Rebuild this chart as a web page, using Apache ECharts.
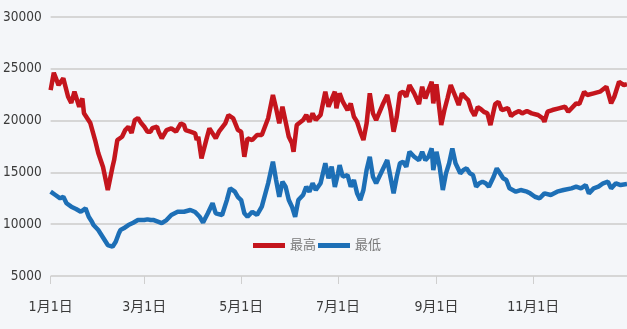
<!DOCTYPE html>
<html>
<head>
<meta charset="utf-8">
<script src="https://cdn.jsdelivr.net/npm/echarts@6/dist/echarts.min.js"></script>
<style>
  html, body { margin: 0; padding: 0; background: #f4f6f9; }
  #chart { width: 627px; height: 329px; }
</style>
</head>
<body>
<div id="chart"></div>
<script>
// Day of year (0 = 1月1日) for the axis labels
const tickDays = [0, 59, 120, 181, 243, 304];
const tickLabels = ['1月1日', '3月1日', '5月1日', '7月1日', '9月1日', '11月1日'];

const seriesNames = ['最高', '最低'];

// 最高: day of year and value
const highDays = [
  0, 2, 5, 8, 11, 13, 15, 18, 20, 21,
  25, 28, 30, 33, 36, 39, 40, 42, 45, 47,
  49, 51, 53, 55, 57, 59, 61, 63, 64, 67,
  68, 70, 71, 73, 74, 76, 77, 79, 80, 82,
  84, 85, 88, 89, 91, 92, 93, 95, 96, 98,
  100, 102, 104, 106, 110, 112, 115, 118, 120, 122,
  124, 127, 130, 133, 137, 140, 142, 144, 146, 148,
  150, 152, 153, 155, 159, 161, 163, 165, 167, 170,
  173, 175, 179, 180, 182, 184, 187, 189, 191, 193,
  195, 197, 199, 201, 203, 205, 209, 212, 214, 216,
  218, 220, 222, 224, 226, 229, 232, 234, 236, 238,
  240, 241, 243, 246, 248, 250, 252, 255, 257, 259,
  261, 263, 265, 267, 269, 271, 273, 275, 277, 280,
  282, 284, 286, 288, 290, 292, 295, 297, 300, 303,
  307, 310, 311, 313, 316, 320, 324, 326, 331, 333,
  336, 338, 342, 346, 350, 353, 355, 358, 361, 363
];
const highValues = [
  22950, 24620, 23430, 24080, 22300, 21700, 22790, 21340, 22140, 20700,
  19760, 18120, 16870, 15520, 13300, 15550, 16190, 18120, 18440, 19090,
  19410, 18800, 20050, 20250, 19760, 19410, 18930, 18930, 19280, 19410,
  18930, 18290, 18440, 19090, 19280, 19250, 19410, 18930, 19090, 19730,
  19570, 19090, 18930, 18930, 18770, 18120, 18440, 16360, 16190, 18120,
  19250, 18770, 18290, 18930, 19730, 20540, 20220, 19090, 18930, 16510,
  18290, 18120, 18610, 18610, 20220, 22470, 21180, 19730, 21340, 19890,
  18440, 17810, 16990, 19570, 20050, 20540, 19890, 20700, 20050, 20540,
  22790, 21340, 22790, 21180, 22630, 21820, 21020, 21660, 20370, 19890,
  18930, 18120, 19730, 22630, 20700, 20050, 21500, 22470, 21020, 18930,
  20370, 22630, 22790, 22300, 23430, 22630, 21600, 23270, 22150, 22950,
  23750, 21660, 23500, 19570, 21020, 22180, 23430, 22300, 21500, 22630,
  22270, 21980, 21020, 20470, 21300, 21100, 20830, 20730, 19570, 21600,
  21820, 21020, 21100, 21200, 20440, 20700, 20920, 20700, 20920, 20700,
  20540, 20220, 19890, 20860, 21020, 21180, 21340, 20860, 21660, 21600,
  22790, 22470, 22630, 22790, 23270, 21660, 22300, 23750, 23430, 23530
];

// 最低: day of year and value
const lowDays = [
  0, 3, 6, 8, 10, 13, 16, 19, 22, 24,
  26, 27, 30, 32, 33, 36, 39, 41, 43, 44,
  46, 49, 52, 55, 59, 61, 63, 65, 70, 73,
  76, 80, 84, 88, 91, 94, 96, 99, 102, 104,
  108, 111, 113, 116, 118, 120, 122, 124, 127, 130,
  133, 137, 140, 142, 144, 146, 148, 150, 152, 154,
  156, 159, 161, 163, 165, 167, 170, 173, 175, 177,
  179, 181, 182, 184, 187, 189, 191, 193, 195, 197,
  199, 201, 203, 205, 209, 212, 214, 216, 218, 220,
  222, 224, 226, 229, 232, 234, 236, 238, 240, 241,
  243, 245, 247, 249, 251, 253, 255, 258, 260, 262,
  264, 266, 268, 270, 272, 274, 276, 279, 281, 283,
  285, 287, 289, 291, 293, 296, 300, 302, 305, 308,
  311, 315, 319, 323, 328, 331, 334, 337, 339, 342,
  345, 348, 351, 353, 356, 359, 363
];
const lowValues = [
  13140, 12820, 12500, 12650, 12020, 11690, 11470, 11200, 11530, 10720,
  10240, 9920, 9440, 8960, 8790, 7990, 7830, 8310, 9120, 9440,
  9600, 9920, 10140, 10400, 10400, 10470, 10400, 10400, 10110, 10400,
  10890, 11200, 11200, 11370, 11180, 10690, 10160, 11050, 12020, 11050,
  10890, 12330, 13470, 13140, 12620, 12330, 11050, 10720, 11200, 10890,
  11690, 13950, 16030, 14260, 12650, 14100, 13620, 12330, 11690, 10720,
  12330, 12820, 13620, 13140, 13950, 13300, 13950, 15880, 14430, 15550,
  13600, 14900, 15710, 14580, 14750, 13620, 14260, 12980, 12330, 13300,
  15230, 16510, 14580, 13950, 15230, 16190, 14580, 12980, 14580, 15880,
  16030, 15550, 16990, 16510, 16190, 16990, 16190, 16510, 17320, 15230,
  16990, 15550, 13300, 14910, 15880, 17320, 15880, 14910, 15230, 15390,
  14910, 14750, 13620, 13950, 14100, 13950, 13620, 14580, 15390, 14910,
  14430, 14260, 13460, 13300, 13140, 13300, 13140, 12980, 12650, 12500,
  12980, 12820, 13140, 13300, 13460, 13620, 13460, 13780, 12980, 13460,
  13620, 13950, 14100, 13460, 13950, 13780, 13880
];

const zip = (xs, ys) => xs.map((x, i) => [x, ys[i]]);

const labelFont = "'DejaVu Sans Condensed', 'Liberation Sans Narrow', 'Noto Sans CJK SC', sans-serif";

const chart = echarts.init(document.getElementById('chart'), null, { renderer: 'canvas' });
chart.setOption({
  animation: false,
  backgroundColor: '#f4f6f9',
  color: ['#c4151d', '#1d6fb6'],
  grid: { left: 49, right: 0, top: 17, bottom: 53 },
  legend: {
    data: seriesNames,
    left: 248,
    top: 234,
    icon: 'rect',
    itemWidth: 32,
    itemHeight: 5,
    itemGap: 2,
    textStyle: { color: '#7a7a7a', fontSize: 13, fontFamily: labelFont }
  },
  xAxis: {
    type: 'value',
    min: 0,
    max: 363,
    axisLine: { show: false },
    splitLine: { show: false },
    axisTick: {
      show: true,
      customValues: tickDays,
      length: 8,
      lineStyle: { color: '#cfcfcf', width: 1 }
    },
    axisLabel: {
      customValues: tickDays,
      formatter: v => tickLabels[tickDays.indexOf(v)] || '',
      margin: 24,
      color: '#3a3a3a',
      fontSize: 14,
      fontFamily: labelFont
    }
  },
  yAxis: {
    type: 'value',
    min: 5000,
    max: 30000,
    interval: 5000,
    axisLine: { show: false },
    axisTick: { show: false },
    splitLine: { lineStyle: { color: '#d6d6d6', width: 2 } },
    axisLabel: {
      margin: 9,
      color: '#3a3a3a',
      fontSize: 13.5,
      fontFamily: labelFont,
      formatter: v => String(v)
    }
  },
  series: [
    {
      name: seriesNames[0],
      type: 'line',
      data: zip(highDays, highValues),
      showSymbol: false,
      lineStyle: { width: 4.5 }
    },
    {
      name: seriesNames[1],
      type: 'line',
      data: zip(lowDays, lowValues),
      showSymbol: false,
      lineStyle: { width: 4.5 }
    }
  ]
});
</script>
</body>
</html>
